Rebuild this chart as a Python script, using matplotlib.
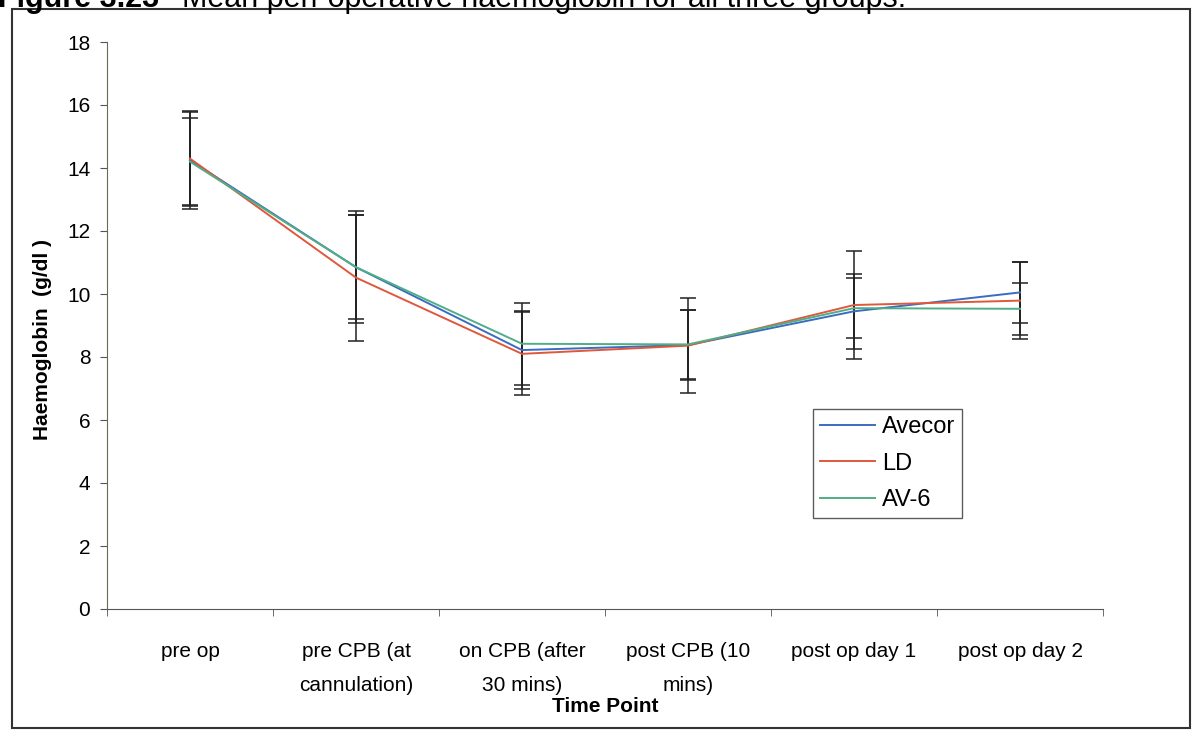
import matplotlib.pyplot as plt
from matplotlib.patches import Rectangle
import numpy as np

plt.rcParams['font.family'] = ['Liberation Sans', 'DejaVu Sans']

# time points along the x axis
categorias = ["pre op", "pre CPB (at\ncannulation)", "on CPB (after\n30 mins)",
              "post CPB (10\nmins)", "post op day 1", "post op day 2"]

# mean haemoglobin (g/dl)
avecor = [14.25, 10.85, 8.22, 8.38, 9.45, 10.05]
ld = [14.30, 10.52, 8.10, 8.36, 9.65, 9.79]
av6 = [14.20, 10.85, 8.42, 8.40, 9.55, 9.53]

# error bar half-length (SD)
avecor_sd = [1.55, 1.78, 1.25, 1.10, 1.20, 0.98]
ld_sd = [1.48, 2.00, 1.32, 1.50, 1.72, 1.22]
av6_sd = [1.40, 1.65, 1.30, 1.10, 0.95, 0.82]

x = np.arange(len(categorias))

fig = plt.figure(figsize=(11.94, 7.32), dpi=100)
ax = fig.add_axes([107/1194, 1-609/732, (1103-107)/1194, (609-42)/732])

series = [("Avecor", avecor, avecor_sd, "#3a6cc0"),
          ("LD", ld, ld_sd, "#e0583c"),
          ("AV-6", av6, av6_sd, "#4fae86")]

for nombre, vals, sd, color in series:
    ax.plot(x, vals, color=color, lw=1.4, label=nombre, zorder=3)
    ax.errorbar(x, vals, yerr=sd, fmt='none', ecolor='#222222', elinewidth=1.1,
                capsize=5.5, capthick=1.1, zorder=2)

ax.set_xlim(-0.5, len(categorias) - 0.5)
ax.set_ylim(0, 18)
ax.set_yticks(range(0, 19, 2))
ax.set_xticks(x)
ax.set_xticklabels(categorias, fontsize=15, linespacing=1.95)
ax.set_xticks(np.arange(-0.5, len(categorias), 1), minor=True)
ax.tick_params(axis='x', which='major', length=0, pad=24)
ax.tick_params(axis='x', which='minor', length=5, color='#555555')
ax.tick_params(axis='y', labelsize=15, length=5, color='#555555', pad=7)

for lado in ['top', 'right']:
    ax.spines[lado].set_visible(False)
ax.spines['left'].set_color('#6b6b55')
ax.spines['bottom'].set_color('#555555')

ax.set_ylabel("Haemoglobin  (g/dl )", fontsize=15, fontweight='bold')
ax.yaxis.set_label_coords(-0.055, 0.475)
ax.set_xlabel("Time Point", fontsize=15, fontweight='bold')
ax.xaxis.set_label_coords(0.5, -0.156)

leg = ax.legend(loc='lower left', bbox_to_anchor=(0.709, 0.160), fontsize=17,
                frameon=True, fancybox=False, handlelength=2.3, borderpad=0.3,
                labelspacing=0.62, handletextpad=0.3, borderaxespad=0)
leg.get_frame().set_edgecolor('#333333')
leg.get_frame().set_linewidth(1.0)

# marco alrededor de la figura
fig.patches.append(Rectangle((12/1194, 1-728/732), (1190-12)/1194, (728-9)/732,
                             transform=fig.transFigure, fill=False,
                             edgecolor='#333333', lw=1.5))

# titulo cortado arriba
fig.text(-2/1194, 1-7/732, "Figure 3.23", fontsize=22, fontweight='bold', va='baseline')
fig.text(182/1194, 1-7/732, "Mean peri-operative haemoglobin for all three groups.",
         fontsize=22, va='baseline')

fig.savefig("out.png", dpi=100)
